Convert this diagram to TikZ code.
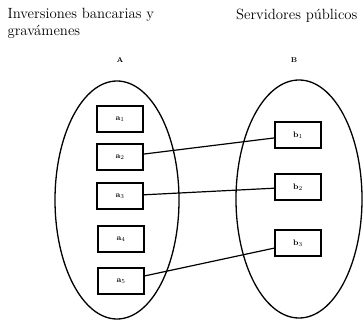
\documentclass[tikz,border=0pt]{standalone}
\usepackage{amsmath}
\usepackage{tikz}
\usetikzlibrary{arrows}

\begin{document}
\begin{tikzpicture}
      [x=1pt,y=-1pt,every node/.style={draw,rectangle,line width=1.2pt,minimum width=46pt,minimum height=26pt,inner sep=0pt}]

      \tikzstyle{title} = [draw=none,align=left,inner sep=0pt,minimum width=0pt,minimum height=0pt,font=\fontsize{14.8}{17}\selectfont]
      \tikzstyle{setname} = [draw=none,inner sep=0pt,minimum width=0pt,minimum height=0pt,font=\scriptsize\bfseries]

      \useasboundingbox (0,0) rectangle (364,321);

      \node[title,anchor=north west] (tA) at (7,8) {Inversiones bancarias y\\gravámenes};
      \node[title,anchor=north east] (tB) at (358,8) {Servidores públicos};
      \node[setname] (A) at (120,60) {A};
      \node[setname] (B) at (294,60) {B};

      \draw[line width=1.3pt] (117,200) ellipse (62 and 119);
      \draw[line width=1.3pt] (299,199) ellipse (63 and 119);

      \node (a1) at (120,119) {\footnotesize $\mathbf{a}_1$};
      \node (a2) at (120,157) {\footnotesize $\mathbf{a}_2$};
      \node (a3) at (120,196) {\footnotesize $\mathbf{a}_3$};
      \node (a4) at (121,239) {\footnotesize $\mathbf{a}_4$};
      \node (a5) at (121,281) {\footnotesize $\mathbf{a}_5$};

      \node (b1) at (298,135) {\footnotesize $\mathbf{b}_1$};
      \node (b2) at (298,187) {\footnotesize $\mathbf{b}_2$};
      \node (b3) at (298,243) {\footnotesize $\mathbf{b}_3$};

      \path[-, line width=1.2pt]
            (a2) edge (b1)
            (a3) edge (b2)
            (a5) edge (b3);
    \end{tikzpicture}
\end{document}
